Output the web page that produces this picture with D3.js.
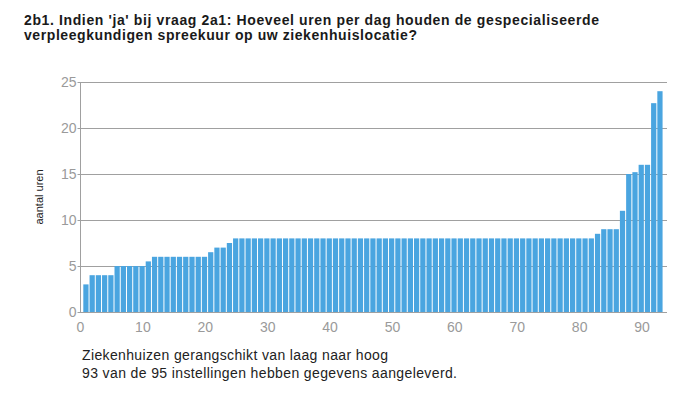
<!DOCTYPE html>
<html>
<head>
<meta charset="utf-8">
<script src="https://cdn.jsdelivr.net/npm/d3@7"></script>
<style>
  body { margin: 0; background: #fff; }
  svg { display: block; font-family: "Liberation Sans", Arial, sans-serif; }
</style>
</head>
<body>
<svg id="chart" width="688" height="397"></svg>
<script>
// data
const titleLines = [
    "2b1. Indien 'ja' bij vraag 2a1: Hoeveel uren per dag houden de gespecialiseerde",
    "verpleegkundigen spreekuur op uw ziekenhuislocatie?"
];
const titleWidths = [575, 393];
const footerLines = [
    "Ziekenhuizen gerangschikt van laag naar hoog",
    "93 van de 95 instellingen hebben gegevens aangeleverd."
];
const footerWidths = [306, 375];
const yLabel = "aantal uren";
const yTicks = [0, 5, 10, 15, 20, 25];
const xTicks = [0, 10, 20, 30, 40, 50, 60, 70, 80, 90];
const hours = [
    3, 4, 4, 4, 4, 5, 5, 5, 5, 5,
    5.5, 6, 6, 6, 6, 6, 6, 6, 6, 6,
    6.5, 7, 7, 7.5, 8, 8, 8, 8, 8, 8,
    8, 8, 8, 8, 8, 8, 8, 8, 8, 8,
    8, 8, 8, 8, 8, 8, 8, 8, 8, 8,
    8, 8, 8, 8, 8, 8, 8, 8, 8, 8,
    8, 8, 8, 8, 8, 8, 8, 8, 8, 8,
    8, 8, 8, 8, 8, 8, 8, 8, 8, 8,
    8, 8, 8.5, 9, 9, 9, 11, 15, 15.2, 16,
    16, 22.7, 24
];

const svg = d3.select("#chart");
const plot = {left: 80.5, right: 667, top: 82, bottom: 312};

const x = d3.scaleLinear().domain([0, 94]).range([plot.left, plot.right]);
const y = d3.scaleLinear().domain([0, 25]).range([plot.bottom, plot.top]);

// title
svg.append("g").selectAll("text")
    .data(titleLines)
    .join("text")
    .attr("x", 24)
    .attr("y", (d, i) => 25 + i * 15)
    .attr("font-size", 14)
    .attr("font-weight", "bold")
    .attr("fill", "#1a1a1a")
    .attr("textLength", (d, i) => titleWidths[i])
    .attr("lengthAdjust", "spacing")
    .text(d => d);

// gridlines
svg.append("g").selectAll("line")
    .data(yTicks)
    .join("line")
    .attr("x1", plot.left - 3)
    .attr("x2", plot.right)
    .attr("y1", d => Math.round(y(d)) + 0.5)
    .attr("y2", d => Math.round(y(d)) + 0.5)
    .attr("stroke", "#a0a0a0")
    .attr("stroke-width", 1);

// y axis line
svg.append("line")
    .attr("x1", plot.left).attr("x2", plot.left)
    .attr("y1", plot.top).attr("y2", plot.bottom + 0.5)
    .attr("stroke", "#a0a0a0");

// bars
svg.append("g").selectAll("rect")
    .data(hours)
    .join("rect")
    .attr("x", (d, i) => x(i + 0.45))
    .attr("width", x(0.84) - x(0))
    .attr("y", d => y(d))
    .attr("height", d => y(0) - y(d))
    .attr("fill", "#4aa5e0");

// y tick labels
svg.append("g").selectAll("text")
    .data(yTicks)
    .join("text")
    .attr("x", plot.left - 4)
    .attr("y", d => y(d) + 5)
    .attr("text-anchor", "end")
    .attr("font-size", 14)
    .attr("fill", "#9a9a9a")
    .text(d => d);

// x tick labels
svg.append("g").selectAll("text")
    .data(xTicks)
    .join("text")
    .attr("x", d => x(d))
    .attr("y", 332)
    .attr("text-anchor", "middle")
    .attr("font-size", 14)
    .attr("fill", "#9a9a9a")
    .text(d => d);

// y axis title
svg.append("text")
    .attr("transform", "translate(43,197) rotate(-90)")
    .attr("text-anchor", "middle")
    .attr("font-size", 11)
    .attr("fill", "#222")
    .text(yLabel);

// footer
svg.append("g").selectAll("text")
    .data(footerLines)
    .join("text")
    .attr("x", 82)
    .attr("y", (d, i) => 360 + i * 17.5)
    .attr("font-size", 14)
    .attr("fill", "#222")
    .attr("textLength", (d, i) => footerWidths[i])
    .attr("lengthAdjust", "spacing")
    .text(d => d);
</script>
</body>
</html>
